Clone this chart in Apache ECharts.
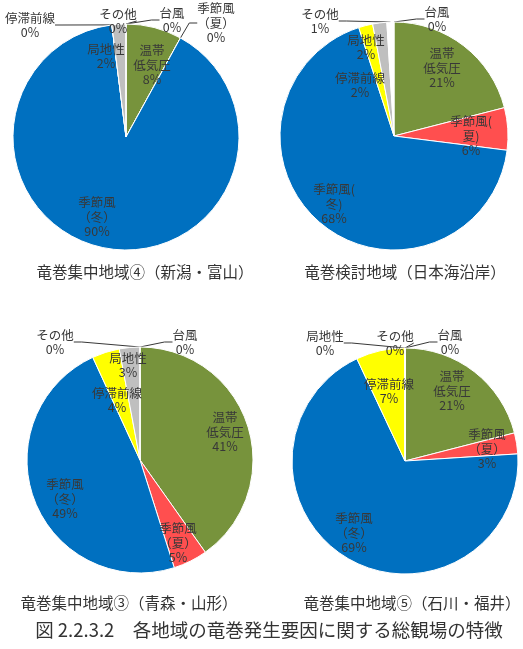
<!DOCTYPE html>
<html>
<head>
<meta charset="utf-8">
<script src="https://cdn.jsdelivr.net/npm/echarts@6/dist/echarts.min.js"></script>
<style>
    html, body { margin: 0; padding: 0; background: #fff; }
    #main { width: 523px; height: 649px; }
</style>
</head>
<body>
<div id="main"></div>
<script>
//--------------------データ---------------------------
var causes = ['台風', '温帯低気圧', '季節風(夏)', '季節風(冬)', '停滞前線', '局地性', 'その他'];
var colors = ['#4F81BD', '#77933C', '#FF4F4F', '#0070C0', '#FFFF00', '#BFBFBF', '#FFFFFF'];

var titles = ['竜巻集中地域④（新潟・富山）', '竜巻検討地域（日本海沿岸）', '竜巻集中地域③（青森・山形）', '竜巻集中地域⑤（石川・福井）'];
var caption = '図 2.2.3.2　各地域の竜巻発生要因に関する総観場の特徴';

var niigata  = [0, 8, 0, 90, 0, 2, 0];    // 新潟・富山
var nihonkai = [0, 21, 6, 68, 2, 2, 1];   // 日本海沿岸
var aomori   = [0, 41, 5, 49, 4, 3, 0];   // 青森・山形
var ishikawa = [0, 21, 3, 69, 7, 0, 0];   // 石川・福井

// ラベル表示名（改行位置はチャートごと）
var namesA = ['台風', '温帯\n低気圧', '季節風\n（夏）', '季節風\n（冬）', '停滞前線', '局地性', 'その他'];
var namesB = ['台風', '温帯\n低気圧', '季節風(\n夏)', '季節風(\n冬)', '停滞前線', '局地性', 'その他'];
//--------------------データ---------------------------

//--------------------レイアウト---------------------------
var pies = [
    {values: niigata,  names: namesA, center: [126, 137], r: 113, title: [145, 272]},
    {values: nihonkai, names: namesB, center: [394, 136], r: 114, title: [405, 272]},
    {values: aomori,   names: namesA, center: [140, 460], r: 113, title: [129, 603]},
    {values: ishikawa, names: namesA, center: [405, 461], r: 113, title: [412, 603]}
];
// ラベル位置 [x, y, 引出線]
var labelPos = [
    [[172, 20, 1], [152, 65, 0], [216, 23, 1], [97, 217, 0], [30, 25, 1], [106, 56, 0], [118, 21, 1]],
    [[437, 19, 1], [442, 68, 0], [471, 136, 0], [334, 204, 0], [360, 85, 0], [366, 47, 0], [320, 21, 1]],
    [[185, 342, 1], [225, 432, 0], [178, 543, 0], [65, 499, 0], [117, 400, 0], [128, 365, 0], [55, 342, 1]],
    [[450, 342, 1], [452, 391, 0], [487, 449, 0], [354, 533, 0], [389, 391, 0], [325, 343, 1], [395, 343, 1]]
];
//--------------------レイアウト---------------------------

var myChart = echarts.init(document.getElementById('main'));
var font = '"Noto Sans CJK JP", sans-serif';

var series = pies.map(function (p, si) {
    return {
        type: 'pie',
        center: p.center,
        radius: p.r,
        startAngle: 90,
        clockwise: true,
        avoidLabelOverlap: false,
        animation: false,
        silent: true,
        itemStyle: {
            borderColor: '#ffffff',
            borderWidth: 1
        },
        label: {
            color: '#383838',
            fontFamily: font,
            fontSize: 12.5,
            lineHeight: 14.5,
            align: 'center'
        },
        labelLine: {
            length: 10,
            length2: 8,
            lineStyle: {color: '#383838', width: 1}
        },
        labelLayout: function (params) {
            var pos = labelPos[si][params.dataIndex];
            return {x: pos[0], y: pos[1], align: 'center', verticalAlign: 'middle'};
        },
        data: causes.map(function (c, i) {
            var outside = labelPos[si][i][2] === 1;
            return {
                name: c,
                value: p.values[i],
                itemStyle: {color: colors[i]},
                label: {
                    position: outside ? 'outside' : 'inside',
                    formatter: p.names[i] + '\n' + p.values[i] + '%'
                },
                labelLine: {show: outside}
            };
        })
    };
});

var graphics = pies.map(function (p, i) {
    return {
        type: 'text',
        x: p.title[0],
        y: p.title[1],
        style: {
            text: titles[i],
            font: '15.5px ' + font,
            fill: '#333',
            align: 'center',
            verticalAlign: 'middle'
        }
    };
});
graphics.push({
    type: 'text',
    x: 269,
    y: 630,
    style: {
        text: caption,
        font: '18.5px ' + font,
        fill: '#333',
        align: 'center',
        verticalAlign: 'middle'
    }
});

option = {
    backgroundColor: '#ffffff',
    graphic: graphics,
    series: series
};
myChart.setOption(option);
</script>
</body>
</html>
